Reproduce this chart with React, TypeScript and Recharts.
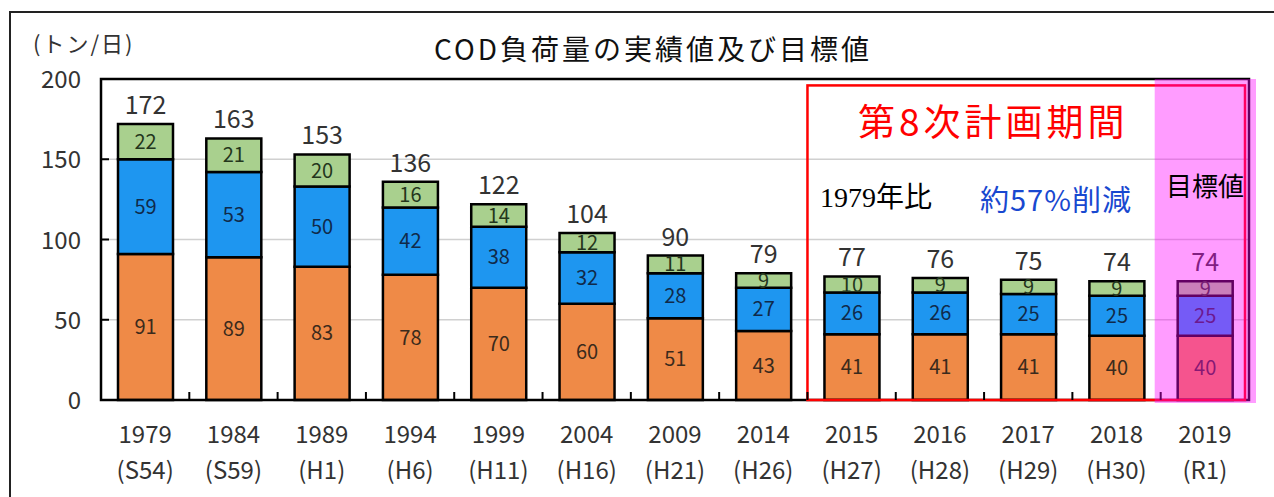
import React from "react"
import {
  BarChart,
  Bar,
  XAxis,
  YAxis,
  CartesianGrid,
  LabelList,
  ReferenceArea,
} from "recharts"

// 年度（西暦・和暦）
const years = ["1979", "1984", "1989", "1994", "1999", "2004", "2009", "2014", "2015", "2016", "2017", "2018", "2019"]
const eras = ["S54", "S59", "H1", "H6", "H11", "H16", "H21", "H26", "H27", "H28", "H29", "H30", "R1"]

// COD負荷量（トン/日）
const orangeVals = [91, 89, 83, 78, 70, 60, 51, 43, 41, 41, 41, 40, 40]
const blueVals = [59, 53, 50, 42, 38, 32, 28, 27, 26, 26, 25, 25, 25]
const greenVals = [22, 21, 20, 16, 14, 12, 11, 9, 10, 9, 9, 9, 9]
const totals = [172, 163, 153, 136, 122, 104, 90, 79, 77, 76, 75, 74, 74]
const yTicks = [0, 50, 100, 150, 200]

const data = years.map((year, i) => ({
  year,
  era: eras[i],
  orange: orangeVals[i],
  blue: blueVals[i],
  green: greenVals[i],
  total: totals[i],
}))

const W = 1274
const H = 497
const X_HEIGHT = 30
const MARGIN = { top: 79, right: 25, bottom: 97 - X_HEIGHT, left: 41 }
const Y_WIDTH = 60
const BAND = (W - MARGIN.left - Y_WIDTH - MARGIN.right) / years.length
const FONT = '"Noto Sans CJK JP", "Noto Sans", sans-serif'

const XTick = (props: any) => {
  const { x, y, index } = props
  return (
    <g>
      {index > 0 && (
        <line x1={x - BAND / 2} x2={x - BAND / 2} y1={y - 8} y2={y} stroke="#000" strokeWidth={2} />
      )}
      <text x={x} y={y + 43} textAnchor="middle" fontSize={24} fill="#333" fontFamily={FONT}>
        {years[index]}
      </text>
      <text x={x} y={y + 79} textAnchor="middle" fontSize={24} fill="#333" fontFamily={FONT}>
        ({eras[index]})
      </text>
    </g>
  )
}

const YTick = (props: any) => {
  const { x, y, payload } = props
  const axisX = x + 20
  return (
    <g>
      {payload.value > 0 && payload.value < 200 && (
        <line x1={axisX} x2={axisX + 8} y1={y} y2={y} stroke="#000" strokeWidth={2} />
      )}
      <text x={x} y={y + 9} textAnchor="end" fontSize={24} fill="#333" fontFamily={FONT}>
        {payload.value}
      </text>
    </g>
  )
}

export default function App() {
  return (
    <div style={{ position: "relative", width: W, height: H, background: "#fff", overflow: "hidden", fontFamily: FONT }}>
      <style>{"body{margin:0}"}</style>
      {/* 外枠 */}
      <div style={{ position: "absolute", left: 9, top: 11, right: 0, bottom: 0, borderTop: "2px solid #222", borderLeft: "2px solid #222" }} />

      <BarChart width={W} height={H} data={data} margin={MARGIN}>
        <CartesianGrid vertical={false} stroke="#d0d0d0" strokeWidth={1.5} />
        <XAxis
          dataKey="year"
          height={X_HEIGHT}
          axisLine={false}
          tickLine={false}
          tickSize={0}
          tickMargin={0}
          interval={0}
          tick={<XTick />}
        />
        <YAxis
          domain={[0, 200]}
          ticks={yTicks}
          width={Y_WIDTH}
          axisLine={false}
          tickLine={false}
          tickSize={0}
          tickMargin={20}
          tick={<YTick />}
        />
        <Bar dataKey="orange" stackId="a" fill="#EF8A47" stroke="#000" strokeWidth={2.5} barSize={55} isAnimationActive={false}>
          <LabelList dataKey="orange" position="center" fontSize={20} fill="#3b2a1c" fontFamily={FONT} />
        </Bar>
        <Bar dataKey="blue" stackId="a" fill="#1E96F0" stroke="#000" strokeWidth={2.5} barSize={55} isAnimationActive={false}>
          <LabelList dataKey="blue" position="center" fontSize={20} fill="#102a4a" fontFamily={FONT} />
        </Bar>
        <Bar dataKey="green" stackId="a" fill="#A9D08E" stroke="#000" strokeWidth={2.5} barSize={55} isAnimationActive={false}>
          <LabelList dataKey="green" position="center" fontSize={20} fill="#24361c" fontFamily={FONT} />
          <LabelList dataKey="total" position="top" offset={10} fontSize={25} fill="#333" fontFamily={FONT} />
        </Bar>

        {/* プロット枠 */}
        <ReferenceArea y1={0} y2={200} fill="none" stroke="#000" strokeWidth={2.5} ifOverflow="visible" zIndex={1500} />
        {/* 第8次計画期間 */}
        <ReferenceArea
          x1="2015"
          x2="2019"
          y1={0}
          y2={196}
          ifOverflow="visible"
          zIndex={1600}
          shape={(p: any) => (
            <rect x={p.x} y={p.y} width={p.width - 4} height={p.height} fill="none" stroke="#ff0000" strokeWidth={2.5} />
          )}
        />
        {/* 目標値 */}
        <ReferenceArea
          x1="2019"
          x2="2019"
          y1={0}
          y2={200}
          ifOverflow="visible"
          zIndex={2500}
          shape={(p: any) => (
            <rect x={p.x - 6} y={p.y} width={p.width + 13} height={p.height + 3} fill="#ff00ff" fillOpacity={0.39} />
          )}
        />
      </BarChart>

      <div style={{ position: "absolute", left: 33, top: 26, fontSize: 22, color: "#333", letterSpacing: 2 }}>(トン/日)</div>
      <div style={{ position: "absolute", left: 0, width: 1306, top: 30, textAlign: "center", fontSize: 28, color: "#111", letterSpacing: 3, lineHeight: "36px" }}>
        COD負荷量の実績値及び目標値
      </div>
      <div style={{ position: "absolute", left: 858, top: 96, fontSize: 37, color: "#ff0000", letterSpacing: 4, lineHeight: "48px" }}>
        第8次計画期間
      </div>
      <div style={{ position: "absolute", left: 820, top: 180, fontSize: 28, color: "#000", fontFamily: '"Liberation Serif", "Noto Sans CJK JP", serif', lineHeight: "36px" }}>
        1979年比
      </div>
      <div style={{ position: "absolute", left: 980, top: 180, fontSize: 29, color: "#1848d0", letterSpacing: 1, lineHeight: "36px" }}>
        約57%削減
      </div>
      <div style={{ position: "absolute", left: 1166, top: 168, fontSize: 26, color: "#000", lineHeight: "34px" }}>目標値</div>
    </div>
  )
}
